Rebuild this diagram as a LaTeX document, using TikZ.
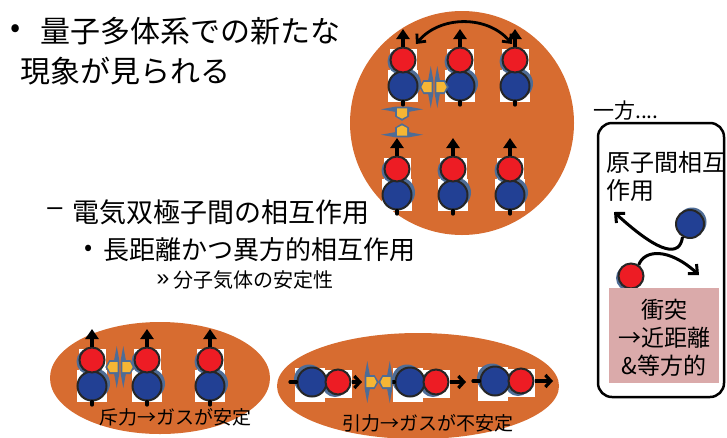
\documentclass[tikz,border=0pt]{standalone}
\usepackage{fontspec}
\setmainfont{Noto Sans CJK JP}
\newfontfamily\latinfont{Liberation Sans}
\usetikzlibrary{arrows.meta,shapes.geometric}

\definecolor{dorange}{RGB}{215,108,48}
\definecolor{ared}{RGB}{237,28,36}
\definecolor{ablue}{RGB}{34,64,148}
\definecolor{steel}{RGB}{78,108,150}
\definecolor{gold}{RGB}{246,182,52}
\definecolor{pinkbox}{RGB}{218,170,170}

\tikzset{
  redatom/.style={circle, fill=ared, draw=black!85, line width=2pt, minimum size=25pt, inner sep=0pt},
  blueatom/.style={circle, fill=ablue, draw=black!85, line width=2pt, minimum size=29pt, inner sep=0pt},
  spin/.style={line width=3.2pt, -{Triangle[width=13pt,length=10pt]}},
  hspin/.style={line width=3.2pt, -{Straight Barb[length=5.5pt,width=12pt]}},
  stick/.style={line width=3.2pt, line cap=round},
  barb/.style={line width=3pt, -{Straight Barb[length=7pt,width=13pt]}},
  dblbarb/.style={line width=2.8pt, {Straight Barb[length=6.5pt,width=12pt]}-{Straight Barb[length=6.5pt,width=12pt]}},
  txt/.style={inner sep=0pt, text=black},
  blob/.style={fill=dorange, draw=none, inner sep=0pt},
  % upright dipole: blue end at the origin, red end above it
  pics/vmol/.style={code={
    \fill[white] (-15,-16) rectangle (15,16);
    \fill[white] (-13,-37) rectangle (14,-16);
    \fill[steel] (3,-2.5) circle[radius=15];
    \fill[steel] (-2.5,-24.5) circle[radius=13];
    \node[blueatom] (-b) at (0,0) {};
    \node[redatom] (-r) at (0,-26) {};
    \coordinate (-tip) at (0,-57);
    \coordinate (-tail) at (0,19);
    \draw[stick] (-b.south) -- (-tail);
    \draw[spin] (-r.north) -- (-tip);
  }},
  % dipole lying along x: blue end at the origin, red end to the right
  pics/hmol/.style={code={
    \fill[white] (-17,-14) rectangle (13,20);
    \fill[white] (13,-12) rectangle (40,16);
    \fill[steel] (-3,-2.5) circle[radius=15];
    \fill[steel] (23,2) circle[radius=13];
    \node[blueatom] (-b) at (0,0) {};
    \node[redatom] (-r) at (26,0) {};
    \coordinate (-tail) at (-22,0);
    \coordinate (-tip) at (#1,0);
    \draw[stick] (-tail) -- (-b.west);
    \draw[hspin] (-r.east) -- (-tip);
  }},
  % half of an interaction burst, pointing along +x
  pics/burst/.style={code={
    \fill[steel] (-1.5,-7) -- (1.5,-21) -- (4.5,-7) -- (10,-7) -- (15,0) -- (10,7)
      -- (4.5,7) -- (1.5,21) -- (-1.5,7) -- cycle;
    \fill[gold] (0.5,-5) -- (9.5,-5) -- (12.5,0) -- (9.5,5) -- (0.5,5) -- cycle;
  }}
}

\begin{document}
\begin{tikzpicture}[x=1pt,y=-1pt]
\useasboundingbox (0,0) rectangle (727,437);
\fill[white] (0,0) rectangle (727,437);

% orange backgrounds
\node[blob, circle, minimum size=224pt] (bigc) at (462,123) {};
\node[blob, ellipse, minimum width=220pt, minimum height=112pt] (ellL) at (160,378) {};
\node[blob, ellipse, minimum width=282pt, minimum height=106pt] (ellR) at (418,386) {};

% dipoles in the large circle
\pic (t1) at (403,86) {vmol};
\pic (t2) at (460,86) {vmol};
\pic (t3) at (515,86) {vmol};
\pic (u1) at (397,195) {vmol};
\pic (u2) at (453,195) {vmol};
\pic (u3) at (510,195) {vmol};

% side by side: repulsion
\pic[rotate=180, xscale=.85] at (432,87) {burst};
\pic[xscale=.85] at (436,87) {burst};
% head to tail: attraction
\pic[rotate=-90, xscale=.85] at (402,108) {burst};
\pic[rotate=90, xscale=.85] at (402,136) {burst};

% exchange arrow over the top row
\coordinate (dl) at (416,44);
\coordinate (dr) at (512,44);
\draw[dblbarb] (dl) .. controls (440,15) and (488,15) .. (dr);

% lower left: parallel dipoles
\pic (p1) at (92,386) {vmol};
\pic (p2) at (147,386) {vmol};
\pic (p3) at (210,386) {vmol};
\pic[rotate=180, xscale=.85] at (118,367) {burst};
\pic[xscale=.85] at (122,367) {burst};
\node[txt, font=\fontsize{19}{22}\selectfont] (repl) at (175,417) {斥力→ガスが安定};

% lower right: dipoles in a row
\pic (h1) at (312,382) {hmol=50};
\pic (h2) at (410,382) {hmol=56};
\pic (h3) at (495,381) {hmol=58};
\pic[xscale=.85] at (366,382) {burst};
\pic[rotate=180, xscale=.85] at (391,382) {burst};
\node[txt, font=\fontsize{19}{22}\selectfont] (attr) at (428,423) {引力→ガスが不安定};

% bullet text
\node[txt, font=\fontsize{30}{36}\selectfont] (bul1) at (16,31) {•};
\node[txt, anchor=west, font=\fontsize{30}{36}\selectfont] (line1) at (40,31) {量子多体系での新たな};
\node[txt, anchor=west, font=\fontsize{30}{36}\selectfont] (line2) at (20,71) {現象が見られる};
\node[txt, font=\latinfont\fontsize{27}{32}\selectfont] (dash) at (55,212) {–};
\node[txt, anchor=west, font=\fontsize{27}{32}\selectfont] (line3) at (72,212) {電気双極子間の相互作用};
\node[txt, font=\fontsize{24}{30}\selectfont] (bul2) at (89,250) {•};
\node[txt, anchor=west, font=\fontsize{26}{30}\selectfont] (line4) at (103,250) {長距離かつ異方的相互作用};
\node[txt, font=\latinfont\fontsize{23}{26}\selectfont] (bul3) at (163,280) {»};
\node[txt, anchor=west, font=\fontsize{20}{24}\selectfont] (line5) at (173,280) {分子気体の安定性};

% atomic interaction panel
\node[txt, anchor=west, font=\fontsize{21}{24}\selectfont] (onhand) at (593,111) {一方....};
\draw[line width=2.5pt, rounded corners=14pt] (598,123) rectangle (724,397);
\node[txt, anchor=west, font=\fontsize{24}{28}\selectfont] (at1) at (606,162) {原子間相互};
\node[txt, anchor=west, font=\fontsize{24}{28}\selectfont] (at2) at (606,190) {作用};
\fill[steel] (629,278) circle[radius=13];
\fill[steel] (692,222) circle[radius=14.5];
\node[circle, fill=ared, draw=black!85, line width=2pt, minimum size=25pt, inner sep=0pt] (ra) at (631,276) {};
\node[circle, fill=ablue, draw=black!85, line width=2pt, minimum size=28pt, inner sep=0pt] (ba) at (690,224) {};
\coordinate (tipA) at (614,212);
\coordinate (tipB) at (699,275);
\draw[barb] (ba.240) .. controls (680,256) and (662,256) .. (tipA);
\draw[barb] (ra.55) .. controls (644,250) and (668,247) .. (tipB);
\fill[pinkbox] (609,288) rectangle (719,383);
\node[txt, align=center, font=\fontsize{23}{28}\selectfont] (concl) at (664,338) {衝突\\→近距離\\\&等方的};
\end{tikzpicture}
\end{document}
